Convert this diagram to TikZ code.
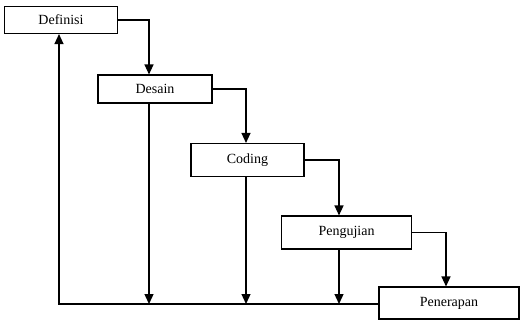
\documentclass[tikz,border=0pt]{standalone}
\usepackage{fontspec}
\setmainfont{Liberation Serif}
\usetikzlibrary{arrows.meta}
\begin{document}
\begin{tikzpicture}[x=1pt,y=-1pt,
  box/.style={draw,line width=1.1pt,inner sep=0pt,font=\fontsize{14}{16}\selectfont},
  arr/.style={line width=1.3pt,-{Triangle[length=10pt,width=9pt]}},
  ln/.style={line width=1.3pt}]
\useasboundingbox (0,0) rectangle (524,320);
\node[box,minimum width=113pt,minimum height=27pt] (Definisi) at (61,20) {Definisi};
\node[box,minimum width=114pt,minimum height=28pt] (Desain) at (155,89) {Desain};
\node[box,minimum width=113pt,minimum height=33pt] (Coding) at (247.5,160) {Coding};
\node[box,minimum width=130pt,minimum height=33pt] (Pengujian) at (346.5,232.5) {Pengujian};
\node[box,minimum width=140pt,minimum height=32pt] (Penerapan) at (449,303) {Penerapan};
\coordinate (c0) at (59,0);
\coordinate (c1) at (149,0);
\coordinate (c2) at (246,0);
\coordinate (c3) at (339,0);
\coordinate (c4) at (446,0);
\coordinate (bot) at (0,304);
\draw[arr] (Definisi.east) -| (Desain.north -| c1);
\draw[arr] (Desain.east) -| (Coding.north -| c2);
\draw[arr] (Coding.east) -| (Pengujian.north -| c3);
\draw[arr] (Pengujian.east) -| (Penerapan.north -| c4);
\draw[arr] (Desain.south -| c1) -- (bot -| c1);
\draw[arr] (Coding.south -| c2) -- (bot -| c2);
\draw[arr] (Pengujian.south -| c3) -- (bot -| c3);
\draw[arr] (Penerapan.west |- bot) -- (bot -| c0) -- (Definisi.south -| c0);
\end{tikzpicture}
\end{document}
